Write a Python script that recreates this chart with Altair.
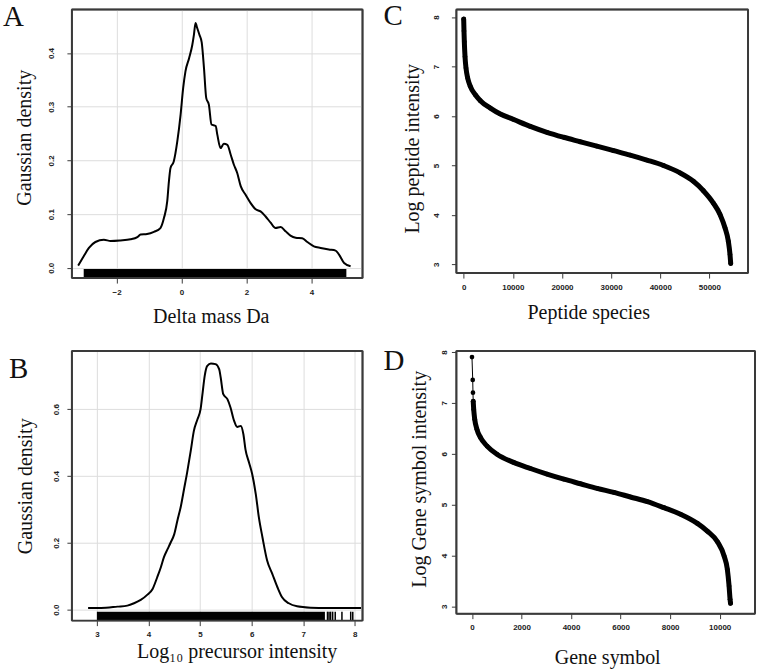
import altair as alt
import pandas as pd

# ---------------- A: density of precursor delta mass ----------------
delta_mass = [-3.18, -3.005, -2.85, -2.65, -2.39, -2.18, -1.88, -1.57, -1.36, -1.26,
              -1.06, -0.85, -0.65, -0.54, -0.44, -0.39, -0.34, -0.24, -0.13, -0.03,
              0.05, 0.12, 0.23, 0.33, 0.38, 0.43, 0.48, 0.55, 0.62, 0.69,
              0.76, 0.84, 0.92, 1.05, 1.10, 1.20, 1.30, 1.41, 1.51, 1.61,
              1.71, 1.82, 1.97, 2.12, 2.28, 2.43, 2.58, 2.74, 2.89, 3.05,
              3.20, 3.35, 3.51, 3.71, 3.87, 4.07, 4.28, 4.53, 4.74, 4.84,
              5.0, 5.2]
delta_density = [0.004, 0.022, 0.037, 0.048, 0.052, 0.050, 0.051, 0.053, 0.057, 0.062,
                 0.063, 0.067, 0.074, 0.093, 0.124, 0.160, 0.186, 0.198, 0.236, 0.285,
                 0.335, 0.366, 0.390, 0.415, 0.434, 0.456, 0.447, 0.434, 0.420, 0.372,
                 0.316, 0.304, 0.267, 0.264, 0.248, 0.223, 0.231, 0.229, 0.211, 0.192,
                 0.177, 0.152, 0.136, 0.121, 0.109, 0.105, 0.096, 0.084, 0.074, 0.076,
                 0.068, 0.060, 0.056, 0.055, 0.048, 0.040, 0.037, 0.034, 0.032, 0.025,
                 0.009, 0.003]
delta_rug_start = [-3.01]
delta_rug_end = [5.07]

# ---------------- B: density of log10 precursor intensity ----------------
log_precursor = [2.83, 3.08, 3.40, 3.59, 3.72, 3.85, 3.98, 4.08, 4.17, 4.24,
                 4.30, 4.37, 4.43, 4.50, 4.56, 4.63, 4.69, 4.75, 4.82, 4.88,
                 4.95, 5.01, 5.05, 5.09, 5.14, 5.21, 5.30, 5.37, 5.40, 5.45,
                 5.53, 5.59, 5.66, 5.72, 5.79, 5.84, 5.88, 5.95, 6.01, 6.08,
                 6.14, 6.21, 6.30, 6.40, 6.50, 6.59, 6.72, 6.88, 7.14, 7.46,
                 7.85, 8.12]
precursor_density = [0.005, 0.005, 0.009, 0.012, 0.019, 0.029, 0.045, 0.062, 0.097, 0.127,
                     0.157, 0.181, 0.201, 0.226, 0.266, 0.311, 0.361, 0.411, 0.476, 0.535,
                     0.570, 0.600, 0.650, 0.700, 0.730, 0.737, 0.735, 0.720, 0.695, 0.645,
                     0.630, 0.605, 0.565, 0.547, 0.550, 0.525, 0.480, 0.440, 0.406, 0.346,
                     0.276, 0.216, 0.147, 0.107, 0.067, 0.037, 0.019, 0.010, 0.006, 0.005,
                     0.005, 0.005]
precursor_rug_start = [3.0]
precursor_rug_end = [7.42]
precursor_rug_ticks = [7.47, 7.50, 7.53, 7.57, 7.62, 7.75, 7.92, 7.96]

# ---------------- C: ranked peptide intensities ----------------
peptide_rank = [0, 60, 130, 270, 470, 810, 1350, 2370, 3390, 5420,
                7450, 10160, 13550, 16940, 20330, 23710, 27100, 30490, 33880, 37260,
                40650, 44040, 46750, 48780, 50810, 52170, 53180, 53860, 54200, 54340]
peptide_log_int = [7.96, 7.72, 7.50, 7.20, 6.97, 6.77, 6.60, 6.43, 6.31, 6.16,
                   6.04, 5.93, 5.79, 5.67, 5.57, 5.48, 5.39, 5.30, 5.21, 5.11,
                   5.00, 4.85, 4.68, 4.49, 4.24, 4.01, 3.74, 3.47, 3.20, 3.02]

# ---------------- D: ranked gene symbol intensities ----------------
gene_rank = [0, 30, 40, 50, 70, 110, 200, 340, 610, 1010,
             1680, 2360, 3030, 3710, 4380, 5050, 5730, 6400, 7080, 7750,
             8420, 9100, 9500, 9910, 10180, 10310, 10380, 10420, 10440]
gene_log_int = [7.90, 7.45, 7.20, 7.03, 6.87, 6.68, 6.48, 6.32, 6.15, 5.99,
                5.83, 5.71, 5.60, 5.50, 5.41, 5.32, 5.24, 5.15, 5.06, 4.94,
                4.81, 4.63, 4.48, 4.27, 3.99, 3.73, 3.40, 3.14, 3.06]

INK = "#111111"
FRAME = "#3a3a3a"
SERIF = "Liberation Serif"
RUG_H = 9


def x_enc(field, domain, values, title, tx, ty, fmt, grid):
    return alt.X(
        field, type="quantitative",
        scale=alt.Scale(domain=domain, nice=False, zero=False),
        axis=alt.Axis(values=values, format=fmt, grid=grid, title=title,
                      titleX=tx, titleY=ty, titleAlign="center",
                      titleBaseline="alphabetic", titleAngle=0,
                      labelPadding=5, labelFlush=False, labelOverlap=False),
    )


def y_enc(field, domain, values, title, tx, ty, fmt, grid, pad):
    return alt.Y(
        field, type="quantitative",
        scale=alt.Scale(domain=domain, nice=False, zero=False),
        axis=alt.Axis(values=values, format=fmt, grid=grid, title=title,
                      titleX=tx, titleY=ty, titleAlign="center",
                      titleBaseline="alphabetic", titleAngle=270,
                      labelAngle=270, labelAlign="center", labelBaseline="bottom",
                      labelPadding=pad, labelOverlap=False),
    )


def panel_letter(ch, dx, dy):
    return alt.Chart(pd.DataFrame({"panel": [ch]})).mark_text(
        font=SERIF, fontSize=29, align="left", baseline="alphabetic", color=INK
    ).encode(x=alt.value(dx), y=alt.value(dy), text="panel:N")


def plot_box(w, h):
    # the closed box around each plotting region, drawn as its four edges
    edges = pd.DataFrame({"edge": ["top", "bottom", "left", "right"],
                          "x0": [0, 0, 0, w], "x1": [w, w, 0, w],
                          "y0": [0, h, 0, 0], "y1": [0, h, h, h]})
    return alt.Chart(edges).mark_rule(color=FRAME, strokeWidth=2).encode(
        x=alt.X("x0:Q", scale=None, axis=None), x2="x1:Q",
        y=alt.Y("y0:Q", scale=None, axis=None), y2="y1:Q",
    )


def boxed(layers, w, h):
    return alt.layer(*layers, plot_box(w, h)).properties(width=w, height=h)


# ---- panel A ----
wA, hA = 291, 269
xa = dict(domain=[-3.373, 5.567], values=[-2, 0, 2, 4], title="Delta mass Da",
          tx=139, ty=44, fmt="d", grid=True)
dfA = pd.DataFrame({"delta": delta_mass, "density": delta_density})
rugA = alt.Chart(pd.DataFrame({"delta": delta_rug_start, "end": delta_rug_end})).mark_rect(
    color="black").encode(x=x_enc("delta", **xa), x2="end",
                          y=alt.value(hA - RUG_H), y2=alt.value(hA))
lineA = alt.Chart(dfA).mark_line(color="black", strokeWidth=2, interpolate="monotone").encode(
    x=x_enc("delta", **xa),
    y=y_enc("density", [-0.0192, 0.4813], [0.0, 0.1, 0.2, 0.3, 0.4], "Gaussian density",
            -41, 128, ".1f", True, 11),
)
panelA = boxed([rugA, lineA, panel_letter("A", -69, 17)], wA, hA)

# ---- panel B ----
wB, hB = 291, 270
xb = dict(domain=[2.516, 8.149], values=[3, 4, 5, 6, 7, 8],
          title="Log\u2081\u2080 precursor intensity", tx=165, ty=37, fmt="d", grid=True)
dfB = pd.DataFrame({"logint": log_precursor, "density": precursor_density})
rugB = alt.Chart(pd.DataFrame({"logint": precursor_rug_start, "end": precursor_rug_end})).mark_rect(
    color="black").encode(x=x_enc("logint", **xb), x2="end",
                          y=alt.value(hB - RUG_H), y2=alt.value(hB))
rugB_ticks = alt.Chart(pd.DataFrame({"logint": precursor_rug_ticks})).mark_rule(
    color="black", strokeWidth=1.5).encode(x=x_enc("logint", **xb),
                                           y=alt.value(hB - RUG_H), y2=alt.value(hB))
lineB = alt.Chart(dfB).mark_line(color="black", strokeWidth=2, interpolate="monotone").encode(
    x=x_enc("logint", **xb),
    y=y_enc("density", [-0.0329, 0.7743], [0.0, 0.2, 0.4, 0.6], "Gaussian density",
            -40, 135, ".1f", True, 6),
)
panelB = boxed([rugB, rugB_ticks, lineB, panel_letter("B", -63, 27)], wB, hB)

# ---- panel C ----
wC, hC = 292, 264
dfC = pd.DataFrame({"rank": peptide_rank, "logint": peptide_log_int})
xc = x_enc("rank", [-1484, 57865], [0, 10000, 20000, 30000, 40000, 50000],
           "Peptide species", 132, 45, "d", False)
yc = y_enc("logint", [2.824, 8.155], [3, 4, 5, 6, 7, 8], "Log peptide intensity",
           -38, 139, "d", False, 11)
bandC = alt.Chart(dfC).mark_line(color="black", strokeWidth=5, strokeCap="round",
                                 strokeJoin="round", interpolate="monotone").encode(x=xc, y=yc)
dotsC = alt.Chart(dfC).mark_circle(color="black", size=22, opacity=1).encode(x=xc, y=yc)
panelC = boxed([bandC, dotsC, panel_letter("C", -73, 16)], wC, hC)

# ---- panel D ----
wD, hD = 299, 263
dfD = pd.DataFrame({"rank": gene_rank, "logint": gene_log_int})
xd = x_enc("rank", [-629, 11427], [0, 2000, 4000, 6000, 8000, 10000],
           "Gene symbol", 151, 50, "d", False)
yd = y_enc("logint", [2.857, 8.0196], [3, 4, 5, 6, 7, 8], "Log Gene symbol intensity",
           -31, 128, "d", False, 3)
thinD = alt.Chart(dfD).mark_line(color="black", strokeWidth=1).encode(x=xd, y=yd)
bandD = alt.Chart(dfD).transform_filter("datum.logint <= 7.1").mark_line(
    color="black", strokeWidth=5, strokeCap="round", strokeJoin="round",
    interpolate="monotone").encode(x=xd, y=yd)
dotsD = alt.Chart(dfD).mark_circle(color="black", size=22, opacity=1).encode(x=xd, y=yd)
panelD = boxed([thinD, bandD, dotsD, panel_letter("D", -73, 19)], wD, hD)

chart = alt.concat(
    panelA, panelC, panelB, panelD,
    columns=2, spacing={"row": 73, "column": 94}, bounds="flush",
).properties(
    padding={"left": 2, "top": 1, "right": 2, "bottom": 4},
    background="white",
).configure_view(
    stroke=FRAME, strokeWidth=1.5,
).configure_axis(
    domain=False, tickColor=FRAME, tickSize=5, tickWidth=1,
    labelFont="Liberation Sans", labelFontWeight="bold", labelFontSize=8, labelColor="#222222",
    titleFont=SERIF, titleFontSize=20, titleFontWeight="normal", titleColor=INK,
    gridColor="#dddddd", gridWidth=1,
)

chart.save("out.html", embed_options={"renderer": "svg", "actions": False})
